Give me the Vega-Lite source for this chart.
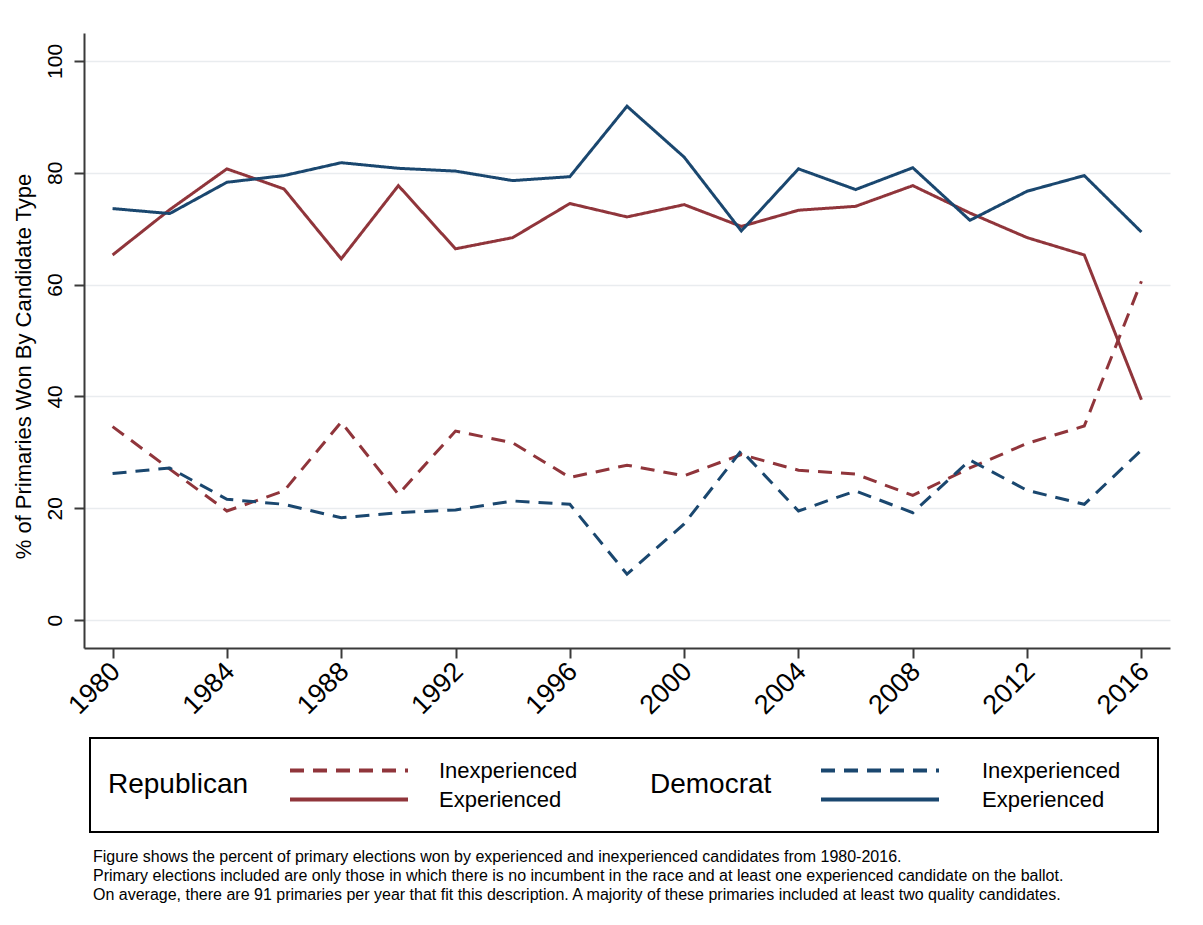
{
  "$schema": "https://vega.github.io/schema/vega-lite/v6.json",
  "description": "Primaries won by experienced and inexperienced candidates, 1980-2016",
  "width": 1086,
  "height": 615,
  "autosize": {"type": "none"},
  "padding": {"left": 84, "top": 33, "right": 33, "bottom": 277},
  "background": "white",
  "title": {
    "text": [
      "Figure shows the percent of primary elections won by experienced and inexperienced candidates from 1980-2016.",
      "Primary elections included are only those in which there is no incumbent in the race and at least one experienced candidate on the ballot.",
      "On average, there are 91 primaries per year that fit this description. A majority of these primaries included at least two quality candidates."
    ],
    "orient": "bottom",
    "anchor": "start",
    "frame": "group",
    "dx": 9,
    "offset": 16,
    "font": "Liberation Sans",
    "fontSize": 16,
    "fontWeight": "normal",
    "color": "black",
    "lineHeight": 19
  },
  "data": {
    "values": [
      {"year": 1980, "party": "Republican", "status": "Experienced", "pct": 65.3},
      {"year": 1982, "party": "Republican", "status": "Experienced", "pct": 73.4},
      {"year": 1984, "party": "Republican", "status": "Experienced", "pct": 80.7},
      {"year": 1986, "party": "Republican", "status": "Experienced", "pct": 77.1},
      {"year": 1988, "party": "Republican", "status": "Experienced", "pct": 64.6},
      {"year": 1990, "party": "Republican", "status": "Experienced", "pct": 77.7},
      {"year": 1992, "party": "Republican", "status": "Experienced", "pct": 66.4},
      {"year": 1994, "party": "Republican", "status": "Experienced", "pct": 68.4},
      {"year": 1996, "party": "Republican", "status": "Experienced", "pct": 74.5},
      {"year": 1998, "party": "Republican", "status": "Experienced", "pct": 72.1},
      {"year": 2000, "party": "Republican", "status": "Experienced", "pct": 74.3},
      {"year": 2002, "party": "Republican", "status": "Experienced", "pct": 70.4},
      {"year": 2004, "party": "Republican", "status": "Experienced", "pct": 73.3},
      {"year": 2006, "party": "Republican", "status": "Experienced", "pct": 74.0},
      {"year": 2008, "party": "Republican", "status": "Experienced", "pct": 77.7},
      {"year": 2010, "party": "Republican", "status": "Experienced", "pct": 72.8},
      {"year": 2012, "party": "Republican", "status": "Experienced", "pct": 68.4},
      {"year": 2014, "party": "Republican", "status": "Experienced", "pct": 65.3},
      {"year": 2016, "party": "Republican", "status": "Experienced", "pct": 39.4},
      {"year": 1980, "party": "Republican", "status": "Inexperienced", "pct": 34.6},
      {"year": 1982, "party": "Republican", "status": "Inexperienced", "pct": 27.0},
      {"year": 1984, "party": "Republican", "status": "Inexperienced", "pct": 19.5},
      {"year": 1986, "party": "Republican", "status": "Inexperienced", "pct": 23.1},
      {"year": 1988, "party": "Republican", "status": "Inexperienced", "pct": 35.4},
      {"year": 1990, "party": "Republican", "status": "Inexperienced", "pct": 22.5},
      {"year": 1992, "party": "Republican", "status": "Inexperienced", "pct": 33.8},
      {"year": 1994, "party": "Republican", "status": "Inexperienced", "pct": 31.7},
      {"year": 1996, "party": "Republican", "status": "Inexperienced", "pct": 25.5},
      {"year": 1998, "party": "Republican", "status": "Inexperienced", "pct": 27.7},
      {"year": 2000, "party": "Republican", "status": "Inexperienced", "pct": 25.8},
      {"year": 2002, "party": "Republican", "status": "Inexperienced", "pct": 29.6},
      {"year": 2004, "party": "Republican", "status": "Inexperienced", "pct": 26.8},
      {"year": 2006, "party": "Republican", "status": "Inexperienced", "pct": 26.1},
      {"year": 2008, "party": "Republican", "status": "Inexperienced", "pct": 22.3},
      {"year": 2010, "party": "Republican", "status": "Inexperienced", "pct": 27.2},
      {"year": 2012, "party": "Republican", "status": "Inexperienced", "pct": 31.6},
      {"year": 2014, "party": "Republican", "status": "Inexperienced", "pct": 34.7},
      {"year": 2016, "party": "Republican", "status": "Inexperienced", "pct": 60.6},
      {"year": 1980, "party": "Democrat", "status": "Experienced", "pct": 73.6},
      {"year": 1982, "party": "Democrat", "status": "Experienced", "pct": 72.7},
      {"year": 1984, "party": "Democrat", "status": "Experienced", "pct": 78.3},
      {"year": 1986, "party": "Democrat", "status": "Experienced", "pct": 79.5},
      {"year": 1988, "party": "Democrat", "status": "Experienced", "pct": 81.8},
      {"year": 1990, "party": "Democrat", "status": "Experienced", "pct": 80.8},
      {"year": 1992, "party": "Democrat", "status": "Experienced", "pct": 80.3},
      {"year": 1994, "party": "Democrat", "status": "Experienced", "pct": 78.6},
      {"year": 1996, "party": "Democrat", "status": "Experienced", "pct": 79.3},
      {"year": 1998, "party": "Democrat", "status": "Experienced", "pct": 91.9},
      {"year": 2000, "party": "Democrat", "status": "Experienced", "pct": 82.8},
      {"year": 2002, "party": "Democrat", "status": "Experienced", "pct": 69.6},
      {"year": 2004, "party": "Democrat", "status": "Experienced", "pct": 80.7},
      {"year": 2006, "party": "Democrat", "status": "Experienced", "pct": 77.0},
      {"year": 2008, "party": "Democrat", "status": "Experienced", "pct": 80.9},
      {"year": 2010, "party": "Democrat", "status": "Experienced", "pct": 71.5},
      {"year": 2012, "party": "Democrat", "status": "Experienced", "pct": 76.7},
      {"year": 2014, "party": "Democrat", "status": "Experienced", "pct": 79.5},
      {"year": 2016, "party": "Democrat", "status": "Experienced", "pct": 69.4},
      {"year": 1980, "party": "Democrat", "status": "Inexperienced", "pct": 26.2},
      {"year": 1982, "party": "Democrat", "status": "Inexperienced", "pct": 27.2},
      {"year": 1984, "party": "Democrat", "status": "Inexperienced", "pct": 21.6},
      {"year": 1986, "party": "Democrat", "status": "Inexperienced", "pct": 20.7},
      {"year": 1988, "party": "Democrat", "status": "Inexperienced", "pct": 18.3},
      {"year": 1990, "party": "Democrat", "status": "Inexperienced", "pct": 19.2},
      {"year": 1992, "party": "Democrat", "status": "Inexperienced", "pct": 19.7},
      {"year": 1994, "party": "Democrat", "status": "Inexperienced", "pct": 21.3},
      {"year": 1996, "party": "Democrat", "status": "Inexperienced", "pct": 20.7},
      {"year": 1998, "party": "Democrat", "status": "Inexperienced", "pct": 8.2},
      {"year": 2000, "party": "Democrat", "status": "Inexperienced", "pct": 17.2},
      {"year": 2002, "party": "Democrat", "status": "Inexperienced", "pct": 30.3},
      {"year": 2004, "party": "Democrat", "status": "Inexperienced", "pct": 19.5},
      {"year": 2006, "party": "Democrat", "status": "Inexperienced", "pct": 23.1},
      {"year": 2008, "party": "Democrat", "status": "Inexperienced", "pct": 19.2},
      {"year": 2010, "party": "Democrat", "status": "Inexperienced", "pct": 28.6},
      {"year": 2012, "party": "Democrat", "status": "Inexperienced", "pct": 23.2},
      {"year": 2014, "party": "Democrat", "status": "Inexperienced", "pct": 20.7},
      {"year": 2016, "party": "Democrat", "status": "Inexperienced", "pct": 30.4}
    ]
  },
  "encoding": {
    "x": {
      "field": "year",
      "type": "quantitative",
      "scale": {"domain": [1979, 2017], "nice": false, "zero": false},
      "axis": {
        "title": null,
        "values": [1980, 1984, 1988, 1992, 1996, 2000, 2004, 2008, 2012, 2016],
        "format": "d",
        "grid": false,
        "labelAngle": -45,
        "labelAlign": "right",
        "labelBaseline": "middle",
        "labelFontSize": 27,
        "labelPadding": 9,
        "labelOffset": 3
      }
    },
    "y": {
      "field": "pct",
      "type": "quantitative",
      "scale": {"domain": [-5, 105], "nice": false, "zero": false},
      "axis": {
        "title": "% of Primaries Won By Candidate Type",
        "titleFontSize": 22,
        "titlePadding": 9,
        "titleY": 333,
        "values": [0, 20, 40, 60, 80, 100],
        "grid": true,
        "gridColor": "#e9ecef",
        "gridWidth": 1.5,
        "labelAngle": 270,
        "labelAlign": "center",
        "labelBaseline": "bottom",
        "labelFontSize": 21,
        "labelPadding": 9
      }
    }
  },
  "layer": [
    {
      "transform": [{"filter": "datum.party == 'Republican'"}],
      "mark": {"type": "line", "strokeWidth": 3},
      "encoding": {
        "color": {
          "field": "status",
          "type": "nominal",
          "scale": {"domain": ["Inexperienced", "Experienced"], "range": ["#90353b", "#90353b"]},
          "legend": {
            "title": "Republican",
            "orient": "none",
            "legendX": 6,
            "legendY": 705,
            "direction": "vertical",
            "padding": 18,
            "strokeColor": "black",
            "titlePadding": 39,
            "labelOffset": 29,
            "labelExpr": "pad(datum.label, 105) + '\u200b'"
          }
        },
        "strokeDash": {
          "field": "status",
          "type": "nominal",
          "scale": {"domain": ["Inexperienced", "Experienced"], "range": [[14, 9], [1, 0]]},
          "legend": {
            "title": "Republican",
            "orient": "none",
            "legendX": 6,
            "legendY": 705,
            "direction": "vertical",
            "padding": 18,
            "strokeColor": "black",
            "titlePadding": 39,
            "labelOffset": 29,
            "labelExpr": "pad(datum.label, 105) + '\u200b'"
          }
        }
      }
    },
    {
      "transform": [{"filter": "datum.party == 'Democrat'"}],
      "mark": {"type": "line", "strokeWidth": 3},
      "encoding": {
        "color": {
          "field": "status",
          "type": "nominal",
          "scale": {"domain": ["Inexperienced", "Experienced"], "range": ["#1a476f", "#1a476f"]},
          "legend": {
            "title": "Democrat",
            "orient": "none",
            "legendX": 566,
            "legendY": 723,
            "direction": "vertical",
            "padding": 0,
            "titlePadding": 47,
            "labelOffset": 41
          }
        },
        "strokeDash": {
          "field": "status",
          "type": "nominal",
          "scale": {"domain": ["Inexperienced", "Experienced"], "range": [[14, 9], [1, 0]]},
          "legend": {
            "title": "Democrat",
            "orient": "none",
            "legendX": 566,
            "legendY": 723,
            "direction": "vertical",
            "padding": 0,
            "titlePadding": 47,
            "labelOffset": 41
          }
        }
      }
    }
  ],
  "resolve": {"scale": {"color": "independent", "strokeDash": "independent"}},
  "config": {
    "view": {"stroke": null},
    "font": "Liberation Sans",
    "axis": {
      "labelFont": "Liberation Sans",
      "titleFont": "Liberation Sans",
      "labelColor": "black",
      "titleColor": "black",
      "titleFontWeight": "normal",
      "domainColor": "#3a3a3a",
      "domainWidth": 2,
      "tickColor": "#3a3a3a",
      "tickWidth": 2,
      "tickSize": 10
    },
    "legend": {
      "titleOrient": "left",
      "titleAnchor": "middle",
      "titleBaseline": "middle",
      "titleFont": "Liberation Sans",
      "titleFontSize": 28,
      "titleFontWeight": "normal",
      "titleColor": "black",
      "labelFont": "Liberation Sans",
      "labelFontSize": 22,
      "labelColor": "black",
      "labelLimit": 1000,
      "symbolType": "stroke",
      "symbolSize": 13924,
      "symbolStrokeWidth": 4,
      "clipHeight": 29,
      "rowPadding": 0,
      "strokeWidth": 2
    }
  }
}
